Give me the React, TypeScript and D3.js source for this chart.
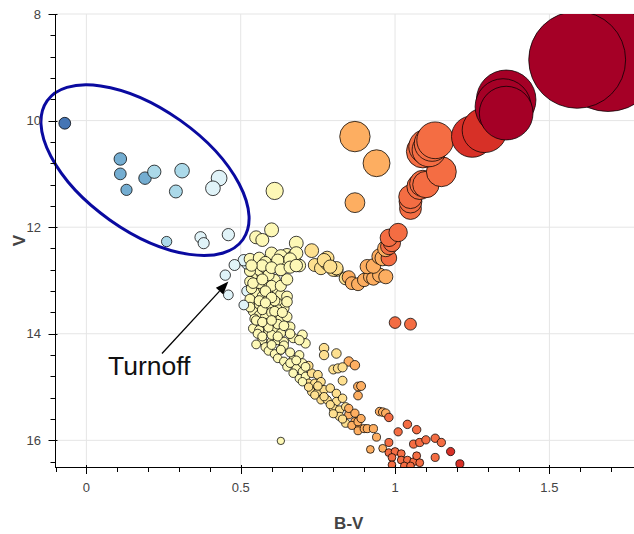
import React, { useEffect, useRef } from "react";
import * as d3 from "d3";

// blue stragglers (inside the ellipse)
const stragglerBV = [-0.07, 0.11, 0.11, 0.13, 0.19, 0.22, 0.31, 0.29, 0.43, 0.41, 0.26, 0.37, 0.38, 0.46];
const stragglerV = [10.05, 10.72, 11.0, 11.3, 11.08, 10.96, 10.94, 11.33, 11.08, 11.27, 12.27, 12.19, 12.3, 12.14];

// bluish stars at the turnoff
const turnoffBV = [0.45, 0.48, 0.46, 0.51];
const turnoffV = [12.9, 12.71, 13.27, 13.46];

// loose stars above the turnoff and the subgiant branch
const subgiantBV = [0.61, 0.6, 0.55, 0.57, 0.68, 0.73,
  0.52, 0.54, 0.565, 0.6, 0.61, 0.63, 0.65, 0.67, 0.68, 0.655, 0.6, 0.63, 0.64, 0.68, 0.65,
  0.51, 0.53, 0.56, 0.58, 0.62, 0.66, 0.69, 0.57, 0.6, 0.63, 0.535, 0.66, 0.68,
  0.74, 0.76, 0.78, 0.81, 0.78, 0.77, 0.8, 0.84, 0.81, 0.85, 0.79];
const subgiantV = [11.32, 12.05, 12.19, 12.24, 12.3, 12.44,
  12.68, 12.67, 12.64, 12.6, 12.68, 12.69, 12.52, 12.55, 12.68, 12.68, 12.49, 12.54, 12.67, 12.49, 12.98,
  12.62, 12.6, 12.58, 12.66, 12.62, 12.6, 12.72, 12.72, 12.76, 12.8, 12.72, 12.75, 12.72,
  12.71, 12.77, 12.68, 12.8, 12.58, 12.62, 12.8, 12.96, 12.77, 12.94, 12.74];

// upper main sequence, densest part
const upperMsBV = [0.55, 0.57, 0.53, 0.55, 0.58, 0.61, 0.55, 0.57, 0.6, 0.62, 0.63, 0.54, 0.56, 0.6, 0.62, 0.64,
  0.54, 0.56, 0.58, 0.61, 0.63, 0.65, 0.66, 0.54, 0.56, 0.59, 0.61, 0.63, 0.57, 0.6, 0.62, 0.64, 0.67,
  0.56, 0.58, 0.53, 0.59, 0.575, 0.59, 0.57, 0.6, 0.58, 0.62, 0.6, 0.555, 0.52, 0.53, 0.6, 0.56, 0.62,
  0.64, 0.66, 0.58, 0.63, 0.545, 0.535, 0.65, 0.61,
  0.54, 0.58, 0.6, 0.56, 0.61, 0.55, 0.59, 0.62, 0.53, 0.57, 0.6, 0.635, 0.65, 0.59, 0.61, 0.55, 0.64, 0.58, 0.63, 0.57];
const upperMsV = [12.94, 12.88, 13.02, 13.12, 13.05, 12.99, 13.24, 13.3, 13.24, 13.18, 13.27, 13.4, 13.46, 13.49, 13.43, 13.52,
  13.58, 13.65, 13.68, 13.65, 13.71, 13.68, 13.87, 13.9, 13.93, 13.96, 13.93, 13.99, 14.12, 14.15, 14.12, 14.15, 14.08,
  12.8, 12.76, 12.82, 12.9, 13.15, 13.35, 13.55, 13.6, 13.8, 13.82, 14.02, 14.0, 13.2, 13.35, 13.1, 13.05, 13.55,
  13.85, 14.0, 14.25, 14.3, 13.72, 13.15, 13.3, 13.38,
  13.05, 13.2, 13.32, 13.38, 13.58, 13.75, 13.88, 14.05, 13.5, 13.78, 13.75, 13.6, 13.4, 14.32, 14.38, 14.2, 14.22, 13.42, 13.1, 12.98];

// lower main sequence
const lowerMsBV = [0.57, 0.6, 0.63, 0.62, 0.64, 0.67, 0.65, 0.68, 0.67, 0.7, 0.69, 0.71, 0.73, 0.75, 0.72, 0.74, 0.76,
  0.73, 0.75, 0.77, 0.79, 0.81, 0.76, 0.78, 0.81, 0.83, 0.8, 0.82, 0.84, 0.82, 0.85, 0.84, 0.87, 0.88,
  0.7, 0.71, 0.69, 0.66, 0.69, 0.7, 0.72,
  0.66, 0.68, 0.7, 0.72, 0.74, 0.77, 0.79, 0.8, 0.83, 0.86, 0.71, 0.75];
const lowerMsV = [14.05, 14.21, 14.3, 14.46, 14.52, 14.49, 14.62, 14.65, 14.74, 14.71, 14.84, 14.8, 14.74, 14.77, 14.93, 14.93, 14.9,
  15.09, 15.09, 15.05, 15.02, 15.12, 15.24, 15.24, 15.27, 15.21, 15.4, 15.43, 15.37, 15.55, 15.52, 15.68, 15.65, 15.74,
  14.02, 14.18, 14.12, 14.35, 14.4, 14.55, 14.6,
  14.55, 14.5, 14.9, 15.0, 15.15, 15.18, 15.33, 15.5, 15.6, 15.72, 14.62, 14.98];

// scattered stars to the right of the main sequence
const scatterBV = [0.77, 0.77, 0.81, 0.85, 0.87, 0.8, 0.815, 0.83, 0.83,
  0.88, 0.89, 0.88, 0.95, 0.96, 0.97, 0.98, 0.85, 0.87, 0.88, 0.89, 0.88, 0.9, 0.91, 0.93, 0.94, 0.92, 0.96, 0.98,
  0.63, 1.0, 1.05];
const scatterV = [14.27, 14.4, 14.37, 14.52, 14.59, 14.67, 14.65, 14.63, 14.88,
  14.99, 14.98, 15.16, 15.46, 15.47, 15.49, 15.57, 15.4, 15.49, 15.65, 15.59, 15.82, 15.78, 15.78, 15.78, 15.94, 16.17, 16.15, 16.04,
  16.01, 13.79, 13.82];

// faint red dwarfs at the bottom
const faintBV = [1.04, 1.01, 1.07, 1.06, 1.08, 1.1, 1.13, 1.15, 1.18, 1.21, 1.13, 0.98, 1.0, 1.02, 0.99, 1.02, 1.04, 1.06, 1.07, 1.08, 0.99, 1.03, 1.05];
const faintV = [15.7, 15.84, 15.8, 16.07, 16.04, 15.99, 15.96, 16.04, 16.21, 16.44, 16.32, 16.23, 16.21, 16.25, 16.32, 16.37, 16.37, 16.4, 16.29, 16.42, 16.46, 16.48, 16.48];

// lower red giant branch
const lowerRgbBV = [0.86, 0.88, 0.9, 0.92, 0.93, 0.95, 0.97, 0.91, 0.93, 0.95, 0.96, 0.98, 0.97, 0.98, 0.99, 0.98, 1.01];
const lowerRgbV = [13.05, 13.07, 12.99, 12.93, 12.96, 12.9, 12.93, 12.74, 12.73, 12.55, 12.58, 12.58, 12.4, 12.36, 12.3, 12.2, 12.1];

// horizontal branch
const hbBV = [0.87, 0.94, 0.87];
const hbV = [10.3, 10.8, 11.54];

// upper red giant branch
const giantBV = [1.05, 1.05, 1.05, 1.08, 1.09, 1.1, 1.15, 1.09, 1.1, 1.11, 1.12, 1.13, 1.25, 1.29, 1.36, 1.35, 1.36, 1.69, 1.59];
const giantV = [11.65, 11.52, 11.43, 11.24, 11.18, 11.2, 10.96, 10.58, 10.49, 10.55, 10.43, 10.37, 10.3, 10.18, 9.61, 9.74, 9.86, 8.85, 8.86];

const xTicks = [0, 0.5, 1, 1.5];
const yTicks = [8, 10, 12, 14, 16];

const palette = ["#4575b4", "#74add1", "#abd9e9", "#e0f3f8", "#fdf8b6", "#fee090", "#fdae61", "#f46d43", "#d73027", "#a50026"];
const colorBreaks = [0.0, 0.2, 0.35, 0.53, 0.72, 0.85, 0.98, 1.165, 1.33];

// annotations
const ellipseCenter = [0.19, 10.93];
const arrowFrom = [0.245, 14.37];
const arrowTo = [0.46, 13.02];
const labelAt = [0.07, 14.77];

// effective temperature from colour index
const teff = (bv: number) => 4600 * (1 / (0.92 * bv + 1.7) + 1 / (0.92 * bv + 0.62));
// stellar radius relative to a 16th magnitude sun-like star
const relRadius = (bv: number, v: number) => Math.pow(10, -0.2 * (v - 16)) * Math.pow(5851 / teff(bv), 2);

const App = () => {
  const svgRef = useRef<SVGSVGElement>(null);

  useEffect(() => {
    const svg = d3.select(svgRef.current);
    svg.selectAll("*").remove();

    const frame = { left: 55.5, right: 642, top: 14, bottom: 467 };

    const x = d3.scaleLinear().domain([-0.1, 1.8]).range([frame.left, frame.right]);
    const y = d3.scaleLinear().domain([8, 16.5]).range([frame.top, frame.bottom]);
    const color = d3.scaleThreshold<number, string>().domain(colorBreaks).range(palette);
    const size = d3.scaleLinear().domain([1, 68.3]).range([3.7, 48.4]);

    const groups = [
      [upperMsBV, upperMsV],
      [subgiantBV, subgiantV],
      [lowerMsBV, lowerMsV],
      [scatterBV, scatterV],
      [faintBV, faintV],
      [turnoffBV, turnoffV],
      [stragglerBV, stragglerV],
      [lowerRgbBV, lowerRgbV],
      [hbBV, hbV],
      [giantBV, giantV],
    ];
    const stars = groups.flatMap(([bvs, vs]) => bvs.map((bv, i) => ({ bv, v: vs[i] })));

    const font = "'Liberation Sans', Helvetica, Arial, sans-serif";

    svg.append("defs")
      .append("clipPath")
      .attr("id", "frame")
      .append("rect")
      .attr("x", frame.left)
      .attr("y", frame.top)
      .attr("width", frame.right - frame.left)
      .attr("height", frame.bottom - frame.top);

    // grid
    svg.append("g")
      .selectAll("line")
      .data(xTicks)
      .join("line")
      .attr("x1", (d) => x(d))
      .attr("x2", (d) => x(d))
      .attr("y1", frame.top)
      .attr("y2", frame.bottom)
      .attr("stroke", "#e5e5e5");
    svg.append("g")
      .selectAll("line")
      .data(yTicks)
      .join("line")
      .attr("x1", frame.left)
      .attr("x2", frame.right)
      .attr("y1", (d) => y(d))
      .attr("y2", (d) => y(d))
      .attr("stroke", "#e5e5e5");

    // stars
    svg.append("g")
      .attr("clip-path", "url(#frame)")
      .selectAll("circle")
      .data(stars)
      .join("circle")
      .attr("cx", (d) => x(d.bv))
      .attr("cy", (d) => y(d.v))
      .attr("r", (d) => size(relRadius(d.bv, d.v)))
      .attr("fill", (d) => color(d.bv))
      .attr("stroke", "#000")
      .attr("stroke-opacity", 0.75)
      .attr("stroke-width", 1);

    // blue straggler ellipse
    const ex = x(ellipseCenter[0]);
    const ey = y(ellipseCenter[1]);
    svg.append("ellipse")
      .attr("cx", ex)
      .attr("cy", ey)
      .attr("rx", 120)
      .attr("ry", 61)
      .attr("transform", `rotate(35.3, ${ex}, ${ey})`)
      .attr("fill", "none")
      .attr("stroke", "#0a0aa0")
      .attr("stroke-width", 3);

    // turnoff arrow
    const x1 = x(arrowFrom[0]);
    const y1 = y(arrowFrom[1]);
    const x2 = x(arrowTo[0]);
    const y2 = y(arrowTo[1]);
    const ang = Math.atan2(y2 - y1, x2 - x1);
    const headLen = 13;
    const headW = 5;
    const bx = x2 - headLen * Math.cos(ang);
    const by = y2 - headLen * Math.sin(ang);
    svg.append("line")
      .attr("x1", x1)
      .attr("y1", y1)
      .attr("x2", bx)
      .attr("y2", by)
      .attr("stroke", "#000")
      .attr("stroke-width", 1.3);
    svg.append("path")
      .attr("d", d3.line()([
        [x2, y2],
        [bx - headW * Math.sin(ang), by + headW * Math.cos(ang)],
        [bx + headW * Math.sin(ang), by - headW * Math.cos(ang)],
      ]) + "Z")
      .attr("fill", "#000");

    svg.append("text")
      .attr("x", x(labelAt[0]))
      .attr("y", y(labelAt[1]))
      .attr("font-family", font)
      .attr("font-size", 26.5)
      .attr("fill", "#111")
      .text("Turnoff");

    // x axis
    const xAxis = svg.append("g");
    xAxis.append("line")
      .attr("x1", frame.left - 0.5)
      .attr("x2", frame.right)
      .attr("y1", frame.bottom + 0.5)
      .attr("y2", frame.bottom + 0.5)
      .attr("stroke", "#000");
    xAxis.selectAll(".minor")
      .data(d3.range(-1, 19).map((i) => i / 10))
      .join("line")
      .attr("class", "minor")
      .attr("x1", (d) => Math.round(x(d)) + 0.5)
      .attr("x2", (d) => Math.round(x(d)) + 0.5)
      .attr("y1", frame.bottom)
      .attr("y2", frame.bottom + 5)
      .attr("stroke", "#000");
    xAxis.selectAll(".major")
      .data(xTicks)
      .join("line")
      .attr("class", "major")
      .attr("x1", (d) => Math.round(x(d)) + 0.5)
      .attr("x2", (d) => Math.round(x(d)) + 0.5)
      .attr("y1", frame.bottom - 2)
      .attr("y2", frame.bottom + 7)
      .attr("stroke", "#000");
    xAxis.selectAll("text")
      .data(xTicks)
      .join("text")
      .attr("x", (d) => x(d))
      .attr("y", 492)
      .attr("text-anchor", "middle")
      .attr("font-family", font)
      .attr("font-size", 13)
      .attr("fill", "#444")
      .text((d) => String(d));
    svg.append("text")
      .attr("x", (frame.left + frame.right) / 2)
      .attr("y", 529)
      .attr("text-anchor", "middle")
      .attr("font-family", font)
      .attr("font-size", 17)
      .attr("font-weight", "bold")
      .attr("fill", "#444")
      .text("B-V");

    // y axis
    const yAxis = svg.append("g");
    yAxis.append("line")
      .attr("x1", frame.left)
      .attr("x2", frame.left)
      .attr("y1", frame.top)
      .attr("y2", frame.bottom + 1)
      .attr("stroke", "#000");
    yAxis.selectAll(".minor")
      .data(d3.range(0, 22).map((i) => 8 + i * 0.4))
      .join("line")
      .attr("class", "minor")
      .attr("x1", frame.left - 5)
      .attr("x2", frame.left)
      .attr("y1", (d) => Math.round(y(d)) + 0.5)
      .attr("y2", (d) => Math.round(y(d)) + 0.5)
      .attr("stroke", "#000");
    yAxis.selectAll(".major")
      .data(yTicks)
      .join("line")
      .attr("class", "major")
      .attr("x1", frame.left - 7)
      .attr("x2", frame.left + 2)
      .attr("y1", (d) => Math.round(y(d)) + 0.5)
      .attr("y2", (d) => Math.round(y(d)) + 0.5)
      .attr("stroke", "#000");
    yAxis.selectAll("text")
      .data(yTicks)
      .join("text")
      .attr("x", 41)
      .attr("y", (d) => y(d))
      .attr("dy", "0.35em")
      .attr("text-anchor", "end")
      .attr("font-family", font)
      .attr("font-size", 13)
      .attr("fill", "#444")
      .text((d) => String(d));
    svg.append("text")
      .attr("transform", `translate(24.5, ${(frame.top + frame.bottom) / 2}) rotate(-90)`)
      .attr("text-anchor", "middle")
      .attr("font-family", font)
      .attr("font-size", 17)
      .attr("font-weight", "bold")
      .attr("fill", "#444")
      .text("V");
  }, []);

  return (
    <svg
      ref={svgRef}
      width={634}
      height={534}
      style={{ position: "absolute", left: 0, top: 0, background: "#fff" }}
    ></svg>
  );
};

export default App;
